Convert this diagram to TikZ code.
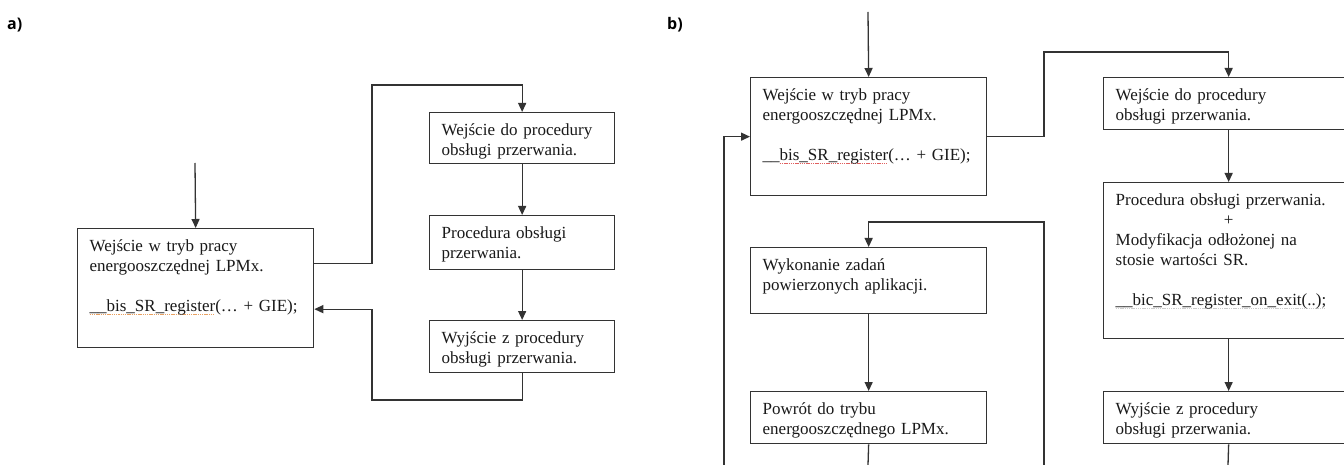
\documentclass[tikz,border=0pt]{standalone}
\usepackage{fontspec}
\setmainfont[WordSpace=0.85]{Liberation Serif}
\newfontfamily\lblfont{Open Sans}
\usetikzlibrary{arrows.meta}
\definecolor{linegray}{HTML}{333333}
\definecolor{spellorange}{HTML}{E8A060}
\definecolor{spellred}{HTML}{E06060}
\definecolor{spellgray}{HTML}{CCCCCC}
% dotted spell-check mark under a word
\newsavebox\spellbox
\newcommand\spellmark[2]{\leavevmode\sbox\spellbox{#2}\rlap{\raisebox{-3.5pt}{\textcolor{#1}{\hbox to \wd\spellbox{\xleaders\hbox{\rule{1.4pt}{0.9pt}\kern0.8pt}\hfill}}}}\usebox\spellbox}
\tikzset{
  procbox/.style={draw=linegray, line width=1.3pt, anchor=north west, align=left,
    inner xsep=12pt, inner ysep=10pt, text height=13pt, text depth=#1,
    font=\fontsize{17}{20}\selectfont, text=black!90},
  flow/.style={draw=linegray, line width=1.3pt, -{Triangle[length=9pt,width=8pt]}},
  wire/.style={draw=linegray, line width=1.3pt},
  panel/.style={font=\lblfont\bfseries\fontsize{16}{18}\selectfont, anchor=west, inner sep=0pt},
}

\begin{document}
\begin{tikzpicture}[x=1pt, y=-1pt]
  \useasboundingbox (0,0) rectangle (1344,465);
  \clip (0,0) rectangle (1344,465);
  \fill[white] (0,0) rectangle (1344,465);

  \node[panel] (la) at (7,25) {a)};
  \node[panel] (lb) at (667,25) {b)};

  % a)
  \node[procbox=86pt, text width=212pt] (A1) at (77,228)
    {Wejście w tryb pracy\\energooszczędnej LPMx.\\[20pt]\spellmark{spellorange}{\_\_bis\_SR\_register}(… + GIE);};
  \node[procbox=18pt, text width=161pt] (R1) at (429,112) {Wejście do procedury\\obsługi przerwania.};
  \node[procbox=21pt, text width=161pt] (R2) at (429,215) {Procedura obsługi\\przerwania.};
  \node[procbox=19pt, text width=161pt] (R3) at (429,320) {Wyjście z procedury\\obsługi przerwania.};

  \coordinate (inA) at (195,163);
  \coordinate (upA) at (372,85);
  \coordinate (backA) at (372,400);

  \draw[flow] (inA) -- (A1.north);
  \draw[flow] ([yshift=25pt]A1.east) -| (upA) -| (R1.north);
  \draw[flow] (R1.south) -- (R2.north);
  \draw[flow] (R2.south) -- (R3.north);
  \draw[flow] (R3.south) |- (backA) |- ([yshift=-21pt]A1.east);

  % b)
  \node[procbox=85pt, text width=212pt] (B1) at (750,77)
    {Wejście w tryb pracy\\energooszczędnej LPMx.\\[20pt]\_\_\spellmark{spellred}{bis\_SR\_register}(… + GIE);};
  \node[procbox=33pt, text width=212pt] (B2) at (750,247) {Wykonanie zadań\\powierzonych aplikacji.};
  \node[procbox=19pt, text width=212pt] (B3) at (750,391) {Powrót do trybu\\energooszczędnego LPMx.};
  \node[procbox=19pt, text width=226pt] (BR1) at (1103,77) {Wejście do procedury\\obsługi przerwania.};
  \node[procbox=123pt, text width=226pt] (BR2) at (1103,182)
    {Procedura obsługi przerwania.\\\makebox[226pt]{+}\\Modyfikacja odłożonej na\\stosie wartości SR.\\[20pt]\spellmark{spellgray}{\_\_bic\_SR\_register\_on\_exit(..);}};
  \node[procbox=19pt, text width=226pt] (BR3) at (1103,391) {Wyjście z procedury\\obsługi przerwania.};

  \coordinate (inB) at (868,12);
  \coordinate (upB) at (1044,52);
  \coordinate (loopL) at (724,465);
  \coordinate (loopR) at (1044,465);
  \coordinate (turnB) at (1044,222);
  \coordinate (outB) at (868,465);
  \coordinate (outBR) at (1228,465);

  \draw[flow] (inB) -- (B1.north);
  \draw[flow] (B1.east) -| (upB) -| (BR1.north);
  \draw[flow] (loopL) |- (B1.west);
  \draw[flow] (loopR) -- (turnB) -| (B2.north);
  \draw[flow] (B2.south) -- (B3.north);
  \draw[wire] (B3.south) -- (outB);
  \draw[flow] (BR1.south) -- (BR2.north);
  \draw[flow] (BR2.south) -- (BR3.north);
  \draw[wire] (BR3.south) -- (outBR);
\end{tikzpicture}
\end{document}
